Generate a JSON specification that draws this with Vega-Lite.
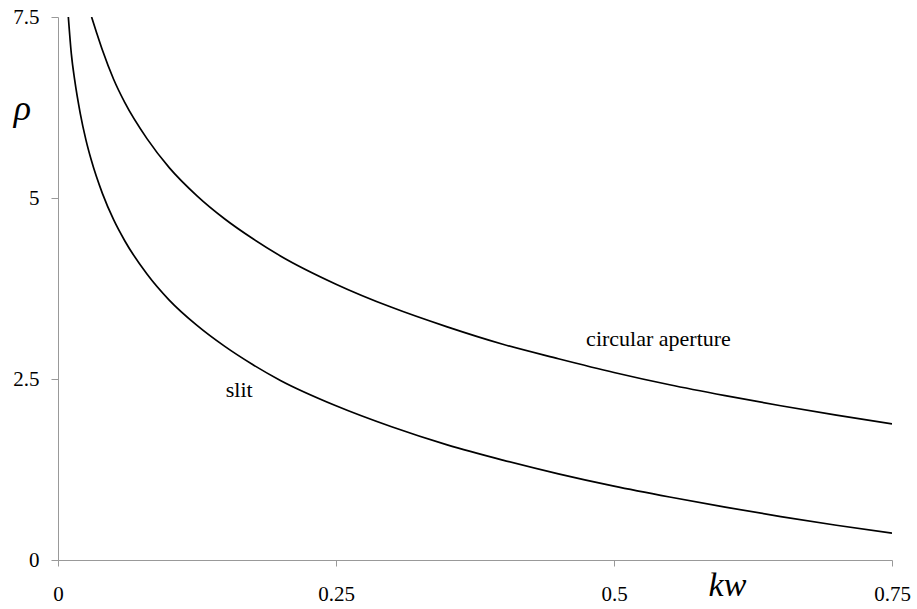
{
  "$schema": "https://vega.github.io/schema/vega-lite/v6.json",
  "width": 834,
  "height": 543,
  "autosize": {"type": "none"},
  "padding": {"left": 58, "top": 17, "right": 25, "bottom": 49},
  "background": "white",
  "config": {
    "view": {"stroke": null},
    "font": "Liberation Serif",
    "axis": {"labelFont": "Liberation Serif", "titleFont": "Liberation Serif"},
    "text": {"font": "Liberation Serif"}
  },
  "datasets": {
    "curves": [
      {"series": "slit", "kw": 0.0093, "rho": 7.50},
      {"series": "slit", "kw": 0.012, "rho": 6.99},
      {"series": "slit", "kw": 0.015, "rho": 6.63},
      {"series": "slit", "kw": 0.02, "rho": 6.17},
      {"series": "slit", "kw": 0.025, "rho": 5.81},
      {"series": "slit", "kw": 0.03, "rho": 5.52},
      {"series": "slit", "kw": 0.04, "rho": 5.06},
      {"series": "slit", "kw": 0.05, "rho": 4.70},
      {"series": "slit", "kw": 0.06, "rho": 4.41},
      {"series": "slit", "kw": 0.08, "rho": 3.95},
      {"series": "slit", "kw": 0.1, "rho": 3.59},
      {"series": "slit", "kw": 0.125, "rho": 3.24},
      {"series": "slit", "kw": 0.15, "rho": 2.95},
      {"series": "slit", "kw": 0.175, "rho": 2.70},
      {"series": "slit", "kw": 0.2, "rho": 2.48},
      {"series": "slit", "kw": 0.25, "rho": 2.13},
      {"series": "slit", "kw": 0.3, "rho": 1.84},
      {"series": "slit", "kw": 0.35, "rho": 1.59},
      {"series": "slit", "kw": 0.4, "rho": 1.38},
      {"series": "slit", "kw": 0.45, "rho": 1.19},
      {"series": "slit", "kw": 0.5, "rho": 1.02},
      {"series": "slit", "kw": 0.55, "rho": 0.87},
      {"series": "slit", "kw": 0.6, "rho": 0.73},
      {"series": "slit", "kw": 0.65, "rho": 0.60},
      {"series": "slit", "kw": 0.7, "rho": 0.48},
      {"series": "slit", "kw": 0.75, "rho": 0.37},
      {"series": "circular", "kw": 0.0302, "rho": 7.50},
      {"series": "circular", "kw": 0.035, "rho": 7.27},
      {"series": "circular", "kw": 0.04, "rho": 7.04},
      {"series": "circular", "kw": 0.05, "rho": 6.64},
      {"series": "circular", "kw": 0.06, "rho": 6.32},
      {"series": "circular", "kw": 0.08, "rho": 5.82},
      {"series": "circular", "kw": 0.1, "rho": 5.42},
      {"series": "circular", "kw": 0.125, "rho": 5.03},
      {"series": "circular", "kw": 0.15, "rho": 4.71},
      {"series": "circular", "kw": 0.175, "rho": 4.44},
      {"series": "circular", "kw": 0.2, "rho": 4.20},
      {"series": "circular", "kw": 0.25, "rho": 3.81},
      {"series": "circular", "kw": 0.3, "rho": 3.49},
      {"series": "circular", "kw": 0.35, "rho": 3.22},
      {"series": "circular", "kw": 0.4, "rho": 2.98},
      {"series": "circular", "kw": 0.45, "rho": 2.78},
      {"series": "circular", "kw": 0.5, "rho": 2.59},
      {"series": "circular", "kw": 0.55, "rho": 2.42},
      {"series": "circular", "kw": 0.6, "rho": 2.27},
      {"series": "circular", "kw": 0.65, "rho": 2.13},
      {"series": "circular", "kw": 0.7, "rho": 2.00},
      {"series": "circular", "kw": 0.75, "rho": 1.88}
    ],
    "labels": [
      {"kw": 0.163, "rho": 2.35, "text": "slit"},
      {"kw": 0.54, "rho": 3.05, "text": "circular aperture"}
    ]
  },
  "layer": [
    {
      "data": {"name": "curves"},
      "mark": {"type": "line", "color": "black", "strokeWidth": 1.7, "interpolate": "monotone", "clip": true},
      "encoding": {
        "x": {
          "field": "kw", "type": "quantitative",
          "scale": {"domain": [0, 0.75], "nice": false, "zero": false},
          "axis": {
            "values": [0, 0.25, 0.5, 0.75],
            "grid": false,
            "domainColor": "#999999",
            "tickColor": "#999999",
            "tickSize": 6,
            "labelFontSize": 21,
            "labelColor": "black",
            "labelPadding": 17,
            "labelFont": "Liberation Serif",
            "labelFlush": false,
            "labelExpr": "toString(datum.value)",
            "title": "kw",
            "titleFont": "Liberation Serif",
            "titleFontStyle": "italic",
            "titleFontWeight": "normal",
            "titleFontSize": 34,
            "titleColor": "black",
            "titleX": 669,
            "titleY": 25,
            "titleAlign": "center",
            "titleBaseline": "middle"
          }
        },
        "y": {
          "field": "rho", "type": "quantitative",
          "scale": {"domain": [0, 7.5], "nice": false, "zero": false},
          "axis": {
            "values": [0, 2.5, 5, 7.5],
            "grid": false,
            "domainColor": "#999999",
            "tickColor": "#999999",
            "tickSize": 7,
            "labelFontSize": 21,
            "labelColor": "black",
            "labelPadding": 12,
            "labelFont": "Liberation Serif",
            "labelFlush": false,
            "labelExpr": "toString(datum.value)",
            "title": "ρ",
            "titleFont": "Liberation Serif",
            "titleFontStyle": "italic",
            "titleFontWeight": "normal",
            "titleFontSize": 36,
            "titleColor": "black",
            "titleAngle": 0,
            "titleX": -36,
            "titleY": 91,
            "titleAlign": "center",
            "titleBaseline": "middle"
          }
        },
        "detail": {"field": "series", "type": "nominal"}
      }
    },
    {
      "data": {"name": "labels"},
      "mark": {"type": "text", "font": "Liberation Serif", "fontSize": 22, "color": "black", "align": "center", "baseline": "middle"},
      "encoding": {
        "x": {"field": "kw", "type": "quantitative"},
        "y": {"field": "rho", "type": "quantitative"},
        "text": {"field": "text", "type": "nominal"}
      }
    }
  ]
}
